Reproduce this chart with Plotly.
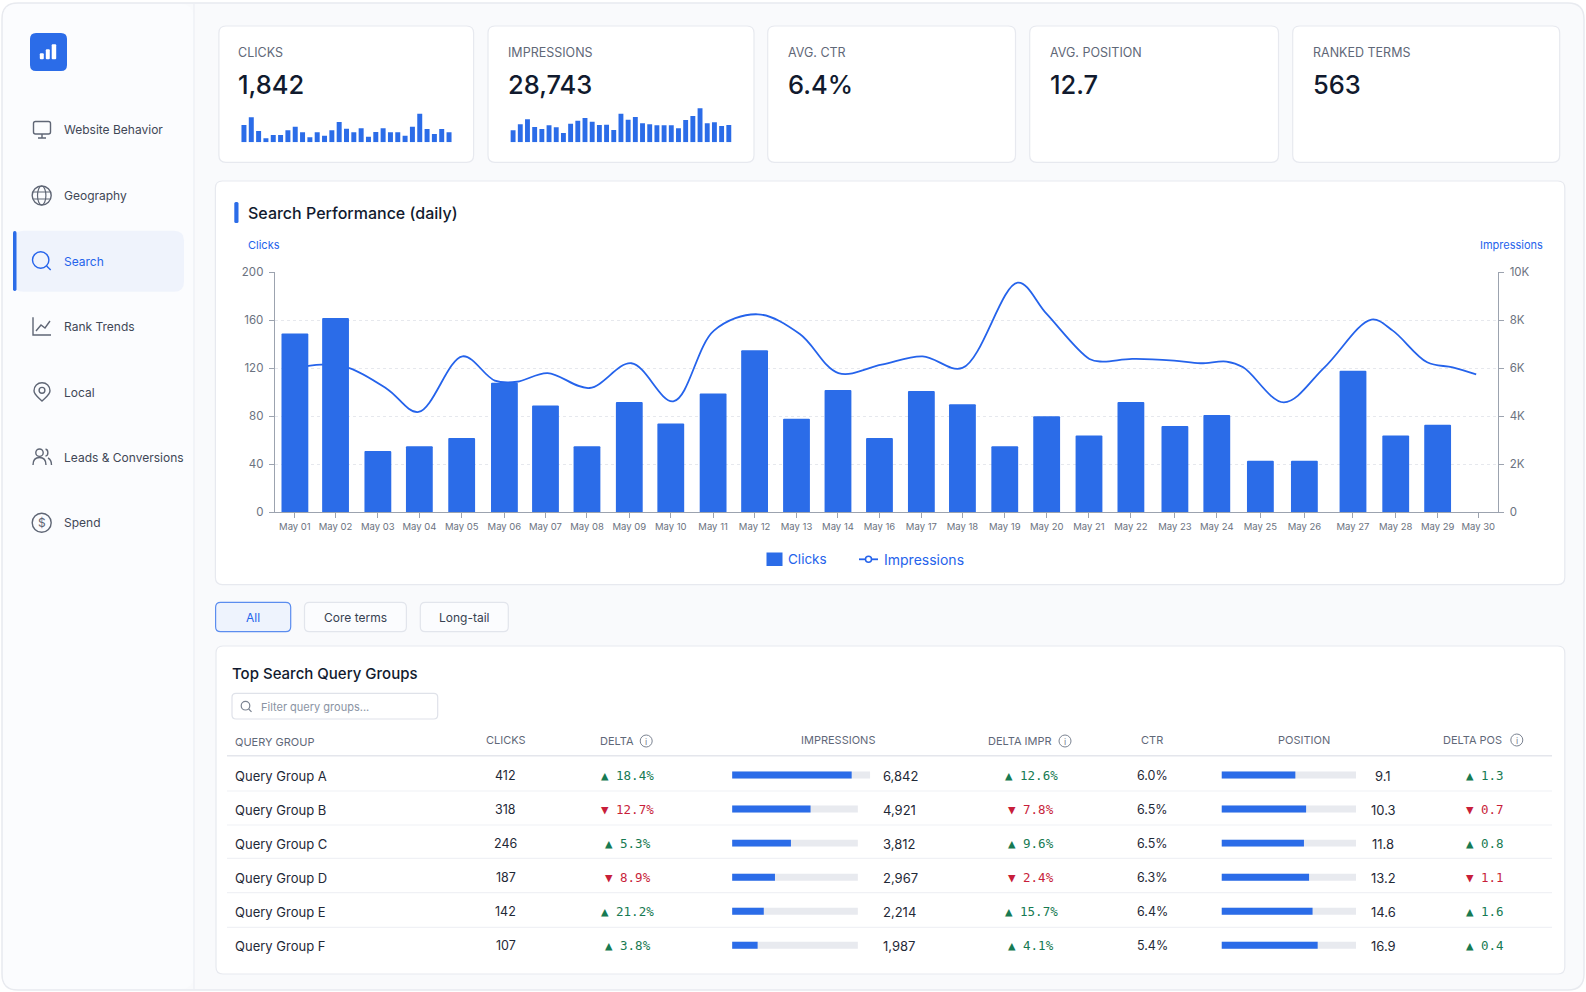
import plotly.graph_objects as go

# Sparkline values on the two KPI cards
clicks_spark = [52, 75, 34, 12, 22, 22, 36, 47, 30, 15, 30, 20, 36, 61, 41, 30, 42, 17, 31, 42, 30, 30, 20, 47, 86, 40, 25, 40, 30]
impr_spark = [36, 54, 69, 46, 40, 51, 45, 28, 56, 65, 73, 62, 52, 53, 37, 86, 68, 76, 57, 54, 51, 51, 51, 42, 67, 79, 102, 57, 60, 49, 52]

kpi_labels = ["CLICKS", "IMPRESSIONS", "AVG. CTR", "AVG. POSITION", "RANKED TERMS"]
kpi_values = ["1,842", "28,743", "6.4%", "12.7", "563"]

nav_labels = ["Website Behavior", "Geography", "Search", "Rank Trends", "Local", "Leads & Conversions", "Spend"]

# Daily chart
day_labels = ["May 01", "May 02", "May 03", "May 04", "May 05", "May 06", "May 07", "May 08", "May 09", "May 10",
              "May 11", "May 12", "May 13", "May 14", "May 16", "May 17", "May 18", "May 19", "May 20", "May 21",
              "May 22", "May 23", "May 24", "May 25", "May 26", "May 27", "May 28", "May 29", "May 30"]
day_slot = [0, 0.97, 1.98, 2.97, 3.98, 5, 5.98, 6.97, 7.98, 8.97, 9.98, 10.97, 11.97, 12.96, 13.95, 14.95, 15.93, 16.94,
            17.94, 18.95, 19.95, 21, 22, 23.04, 24.09, 25.25, 26.27, 27.27, 28.24]
daily_clicks = [149, 162, 51, 55, 62, 108, 89, 55, 92, 74, 99, 135, 78, 102, 62, 101, 90, 55, 80, 64, 92, 72, 81, 43, 43, 118, 64, 73, None]
# curve, the knots do not sit exactly on the days
impr_slot = [0.0, 0.63, 1.3, 2.2, 2.95, 4.0, 4.77, 5.3, 6.03, 7.03, 8.03, 9.03, 10.0, 11.05, 12.05, 12.97, 14.0, 14.98, 15.93,
             17.25, 17.94, 18.96, 19.27, 19.98, 20.98, 21.61, 22.23, 22.63, 23.6, 24.57, 25.69, 26.2, 27.02, 27.63, 28.19]
daily_impr = [6000, 6150, 6010, 5140, 4180, 6500, 5490, 5440, 5800, 5180, 6210, 4625, 7570, 8250, 7430, 5800, 6150, 6500, 6014,
              9570, 8264, 6390, 6280, 6390, 6320, 6210, 6280, 6040, 4583, 6040, 8030, 7570, 6250, 6040, 5750]
clicks_ticks = [0, 40, 80, 120, 160, 200]
impr_ticks = [0, 2000, 4000, 6000, 8000, 10000]
impr_tick_text = ["0", "2K", "4K", "6K", "8K", "10K"]

# Table
query_groups = ["Query Group A", "Query Group B", "Query Group C", "Query Group D", "Query Group E", "Query Group F"]
t_clicks = ["412", "318", "246", "187", "142", "107"]
t_delta = ["▲ 18.4%", "▼ 12.7%", "▲ 5.3%", "▼ 8.9%", "▲ 21.2%", "▲ 3.8%"]
t_impr = ["6,842", "4,921", "3,812", "2,967", "2,214", "1,987"]
t_impr_bar = [95.1, 62.4, 46.8, 34.1, 25.2, 20.3]
t_impr_track = [109.8, 100, 100, 100, 100, 100]
t_delta_impr = ["▲ 12.6%", "▼ 7.8%", "▲ 9.6%", "▼ 2.4%", "▲ 15.7%", "▲ 4.1%"]
t_ctr = ["6.0%", "6.5%", "6.5%", "6.3%", "6.4%", "5.4%"]
t_pos = ["9.1", "10.3", "11.8", "13.2", "14.6", "16.9"]
t_pos_bar = [54.9, 62.9, 61.3, 65.1, 67.7, 71.5]
t_pos_track = [100, 100, 100, 100, 100, 100]
t_delta_pos = ["▲ 1.3", "▼ 0.7", "▲ 0.8", "▼ 1.1", "▲ 1.6", "▲ 0.4"]

W, H = 1586, 992
BLUE = "#2b6ce8"
TEXT_BLUE = "#2563eb"
INK = "#111a2e"
BODY = "#1f2937"
MUTED = "#5f6878"
ICON = "#5f6675"
GREEN = "#177a52"
RED = "#c81e3a"
BORDER = "#e7e9ef"
FONT = "Inter"
MONO = "DejaVu Sans Mono"

shapes = []
notes = []


def rrect(x0, y0, x1, y1, r, fill="white", line=BORDER, lw=1.2):
    p = (f"M{x0+r},{y0} L{x1-r},{y0} Q{x1},{y0} {x1},{y0+r} L{x1},{y1-r} Q{x1},{y1} {x1-r},{y1} "
         f"L{x0+r},{y1} Q{x0},{y1} {x0},{y1-r} L{x0},{y0+r} Q{x0},{y0} {x0+r},{y0} Z")
    shapes.append(dict(type="path", path=p, xref="x", yref="y", layer="below", fillcolor=fill,
                       line=dict(color=line, width=lw)))


def stroke(p, color=ICON, lw=1.4):
    shapes.append(dict(type="path", path=p, xref="x", yref="y", layer="below", line=dict(color=color, width=lw)))


def circle(cx, cy, r, color=ICON, lw=1.4):
    shapes.append(dict(type="circle", x0=cx-r, x1=cx+r, y0=cy-r, y1=cy+r, xref="x", yref="y", layer="below",
                       line=dict(color=color, width=lw)))


def text(x, y, s, size=13, color=BODY, anchor="left", weight=400, family=FONT):
    notes.append(dict(x=x, y=y, xref="x", yref="y", text=s, showarrow=False, xanchor=anchor, yanchor="middle",
                      borderpad=0, font=dict(family=family, size=size, color=color, weight=weight)))


def info(cx, cy):
    circle(cx, cy, 6, color="#7b8391", lw=1)
    text(cx, cy, "i", size=9, color="#7b8391", anchor="center")


# page frame and sidebar
rrect(2, 3, 1584, 990, 16, fill="#f9fafc", line="#e8eaef", lw=1.5)
rrect(3, 4, 194, 989, 14, fill="#fbfcfe", line="#fbfcfe", lw=0)
stroke("M194,4 L194,989", color="#eceef3", lw=1.2)

# logo
rrect(30, 33, 67, 71, 6, fill=BLUE, line=BLUE, lw=0)
for lx0, lx1, ly in [(39.8, 43.8, 53.3), (45.8, 49.8, 49.3), (51.7, 56.2, 44.3)]:
    rrect(lx0, ly, lx1, 59.3, 1, fill="white", line="white", lw=0)

# nav
nav_y = [129.3, 195.7, 261.3, 326.7, 392.3, 457.3, 522.7]
rrect(13.5, 230.7, 184, 291.7, 10, fill="#eff3fc", line="#eff3fc", lw=0)
rrect(13, 231, 16.5, 291, 1.7, fill=BLUE, line=BLUE, lw=0)
for label, y in zip(nav_labels, nav_y):
    active = label == "Search"
    text(62.7, y, label, size=12, color=TEXT_BLUE if active else "#3f4756")

# nav icons
stroke("M35.5,121.5 L48.5,121.5 Q50.5,121.5 50.5,123.5 L50.5,132 Q50.5,134 48.5,134 L35.5,134 Q33.5,134 33.5,132 L33.5,123.5 Q33.5,121.5 35.5,121.5 Z")
stroke("M42,134 L42,137.5 M38,138 L46,138")
circle(41.7, 195.5, 9.5)
shapes.append(dict(type="circle", x0=37.5, x1=45.9, y0=186, y1=205, xref="x", yref="y", layer="below", line=dict(color=ICON, width=1.2)))
stroke("M33,192 L50.4,192 M33,199 L50.4,199", lw=1.2)
circle(40.7, 260, 8.2, color=TEXT_BLUE)
stroke("M46.6,265.9 L50.7,270", color=TEXT_BLUE)
stroke("M33,317.3 L33,335 L51,335")
stroke("M36,331 L41,325 L45,328 L50,321")
stroke("M42,401 C38,397 34,394.5 34,390.7 C34,386 37.5,382.7 42,382.7 C46.5,382.7 50,386 50,390.7 C50,394.5 46,397 42,401 Z")
circle(42, 390.3, 2.9)
circle(39.5, 452.7, 3.7)
stroke("M33,465 C33,459.5 36,457.5 39.5,457.5 C43,457.5 46,459.5 46,465")
stroke("M45.5,449.2 C48.5,449.2 48.8,455.6 45.5,456 M48,458 C50,459 51.5,461 51.5,465")
circle(41.7, 522.7, 9.5)
text(41.7, 522.7, "$", size=12, color=ICON, anchor="center")

# kpi cards
card_x = [(218.9, 473.6), (488, 754), (767.7, 1015.5), (1029.7, 1278.5), (1292.7, 1559.7)]
label_x = [237, 506.7, 787.2, 1049.2, 1312.2]
for (x0, x1), lx, lab, val in zip(card_x, label_x, kpi_labels, kpi_values):
    rrect(x0, 26, x1, 162.3, 7)
    text(lx, 52.7, lab, size=12.5, color=MUTED)
    text(lx, 84.3, val, size=25.5, color=INK, weight=500)

# chart card
rrect(215.4, 181, 1564.8, 584.6, 7)
rrect(234.3, 202, 238.5, 223, 1.5, fill=BLUE, line=BLUE, lw=0)
text(246.8, 213.3, "Search Performance (daily)", size=16, color=INK, weight=500)
text(247, 245, "Clicks", size=11, color=TEXT_BLUE)
text(1544, 245, "Impressions", size=11, color=TEXT_BLUE, anchor="right")

# legend, drawn by hand since the symbols are tighter than a plotly legend allows
rrect(766.5, 552.5, 782.5, 566, 0, fill=BLUE, line=BLUE, lw=0)
text(787, 559, "Clicks", size=13.5, color=TEXT_BLUE)
stroke("M859,559.3 L878,559.3", color=TEXT_BLUE, lw=1.8)
shapes.append(dict(type="circle", x0=865.5, x1=871.5, y0=556.3, y1=562.3, xref="x", yref="y", layer="below",
                   fillcolor="white", line=dict(color=TEXT_BLUE, width=1.5)))
text(883, 559, "Impressions", size=14, color=TEXT_BLUE)

# filter buttons
rrect(215.6, 602.3, 290.7, 631.7, 5, fill="#eef3fd", line="#5b8def", lw=1.2)
rrect(304.5, 602.3, 406.4, 631.7, 5, fill="#fbfcfe", line="#e2e5ec")
rrect(420.3, 602.3, 508.3, 631.7, 5, fill="#fbfcfe", line="#e2e5ec")
text(253.2, 617.6, "All", size=12, color=TEXT_BLUE, anchor="center")
text(355.5, 617.6, "Core terms", size=12, color="#374151", anchor="center")
text(464.3, 617.6, "Long-tail", size=12, color="#374151", anchor="center")

# table card
rrect(216, 646, 1564.8, 974, 7)
text(230.5, 673, "Top Search Query Groups", size=15, color=INK, weight=500)
rrect(232, 693.3, 437.7, 719, 4, fill="white", line="#dfe2e9")
circle(245.5, 705.7, 4.3, color="#7b8391", lw=1.2)
stroke("M248.7,709 L251.5,711.8", color="#7b8391", lw=1.2)
text(260, 706.5, "Filter query groups...", size=11, color="#8a93a3")

text(233.5, 741.7, "QUERY GROUP", size=11, color=MUTED)
text(505.7, 740, "CLICKS", size=11, color=MUTED, anchor="center")
text(599.4, 741, "DELTA", size=11, color=MUTED)
info(646.2, 741)
text(837.5, 740, "IMPRESSIONS", size=11, color=MUTED, anchor="center")
text(1052.5, 741, "DELTA IMPR", size=11, color=MUTED, anchor="right")
info(1065, 741)
text(1152.2, 740, "CTR", size=11, color=MUTED, anchor="center")
text(1304.4, 740, "POSITION", size=11, color=MUTED, anchor="center")
text(1502.6, 740, "DELTA POS", size=11, color=MUTED, anchor="right")
info(1516.8, 740)

stroke("M227,755.7 L1552,755.7", color="#e4e6ec", lw=1.5)
for sep in [791, 825, 858.3, 892.7, 927.3]:
    stroke(f"M227,{sep} L1552,{sep}", color="#f0f1f5", lw=1.2)


def delta_color(s):
    return GREEN if s.startswith("▲") else RED


row_y = [776 + 34.06 * i for i in range(6)]
for i, y in enumerate(row_y):
    text(233.5, y, query_groups[i], size=13, color=BODY)
    text(505.7, y - 0.5, t_clicks[i], size=12.5, color=BODY, anchor="center")
    text(627.6, y - 1, t_delta[i], size=12.5, color=delta_color(t_delta[i]), anchor="center", family=MONO)
    text(882, y, t_impr[i], size=13, color=BODY)
    text(1031, y - 1, t_delta_impr[i], size=12.5, color=delta_color(t_delta_impr[i]), anchor="center", family=MONO)
    text(1152.2, y - 0.5, t_ctr[i], size=12.5, color=BODY, anchor="center")
    text(1383.4, y, t_pos[i], size=13, color=BODY, anchor="center")
    text(1484.7, y - 1, t_delta_pos[i], size=12.5, color=delta_color(t_delta_pos[i]), anchor="center", family=MONO)

fig = go.Figure()

# Bars go on the overlaying axis so the curve ends up behind them
fig.add_trace(go.Bar(x=day_slot, y=daily_clicks, name="Clicks", marker=dict(color=BLUE, line_width=0, cornerradius=1),
                     width=0.64, xaxis="x2", yaxis="y3", customdata=day_labels, hovertemplate="%{customdata}: %{y}<extra>Clicks</extra>"))
fig.add_trace(go.Scatter(x=impr_slot, y=daily_impr, name="Impressions", mode="lines",
                         line=dict(color=TEXT_BLUE, width=1.8, shape="spline", smoothing=1), xaxis="x2", yaxis="y2"))

fig.add_trace(go.Bar(y=clicks_spark, marker=dict(color=BLUE, line_width=0), width=0.68,
                     xaxis="x4", yaxis="y4", name="Clicks"))
fig.add_trace(go.Bar(y=impr_spark, marker=dict(color=BLUE, line_width=0), width=0.68,
                     xaxis="x5", yaxis="y5", name="Impressions"))

fig.add_trace(go.Bar(x=t_impr_track, y=query_groups, orientation="h", width=0.205, marker=dict(color="#e8eaef", line_width=0),
                     xaxis="x6", yaxis="y6", hoverinfo="skip"))
fig.add_trace(go.Bar(x=t_impr_bar, y=query_groups, orientation="h", width=0.205, marker=dict(color=BLUE, line_width=0),
                     xaxis="x6", yaxis="y6", name="Impressions"))
fig.add_trace(go.Bar(x=t_pos_track, y=query_groups, orientation="h", width=0.205, marker=dict(color="#e8eaef", line_width=0),
                     xaxis="x7", yaxis="y7", hoverinfo="skip"))
fig.add_trace(go.Bar(x=t_pos_bar, y=query_groups, orientation="h", width=0.205, marker=dict(color=BLUE, line_width=0),
                     xaxis="x7", yaxis="y7", name="Position"))


def dx(a, b):
    return [a / W, b / W]


def dy(top, bottom):
    return [1 - bottom / H, 1 - top / H]


hidden = dict(visible=False, fixedrange=True)
AXIS_GREY = "#9ca3af"
tick_font = dict(family=FONT, size=11.5, color="#6b7280")

fig.update_layout(
    width=W, height=H,
    margin=dict(l=0, r=0, t=0, b=0, autoexpand=False),
    paper_bgcolor="white",
    plot_bgcolor="rgba(0,0,0,0)",
    barmode="overlay",
    showlegend=False,
    font=dict(family=FONT),
    shapes=shapes,
    annotations=notes,
    # page axes: one unit is one pixel, cards and icons are placed on these
    xaxis=dict(domain=[0, 1], range=[0, W], **hidden),
    yaxis=dict(domain=[0, 1], range=[H, 0], **hidden),
    # daily chart
    xaxis2=dict(domain=dx(274.7, 1498.4), range=[-0.482, 28.72], anchor="y2", tickmode="array", tickvals=day_slot,
                ticktext=day_labels, tickangle=0, ticks="outside", ticklen=5, tickcolor=AXIS_GREY, showgrid=False,
                showline=True, linecolor=AXIS_GREY, zeroline=False, fixedrange=True,
                tickfont=dict(family=FONT, size=9.5, color="#6b7280")),
    yaxis2=dict(domain=dy(272.3, 512.3), range=[0, 10000], anchor="x2", side="right", tickmode="array", tickvals=impr_ticks,
                ticktext=impr_tick_text, ticks="outside", ticklen=5, tickcolor=AXIS_GREY, showline=True, linecolor=AXIS_GREY,
                ticklabelstandoff=3,
                showgrid=True, gridcolor="#e6e8ed", griddash="dot", gridwidth=1, zeroline=False, fixedrange=True, tickfont=tick_font),
    yaxis3=dict(overlaying="y2", range=[0, 200], anchor="x2", side="left", tickmode="array", tickvals=clicks_ticks,
                ticks="outside", ticklen=5, tickcolor=AXIS_GREY, showline=True, linecolor=AXIS_GREY, showgrid=False,
                ticklabelstandoff=3, zeroline=False, fixedrange=True, tickfont=tick_font),
    # sparklines
    xaxis4=dict(domain=dx(240.3, 452.7), range=[-0.5, 28.5], anchor="y4", **hidden),
    yaxis4=dict(domain=dy(112.3, 142.3), range=[0, 90], anchor="x4", **hidden),
    xaxis5=dict(domain=dx(509.5, 732.4), range=[-0.5, 30.5], anchor="y5", **hidden),
    yaxis5=dict(domain=dy(107.3, 142.3), range=[0, 105], anchor="x5", **hidden),
    # table bars
    xaxis6=dict(domain=dx(732.1, 870.4), range=[0, 110], anchor="y6", **hidden),
    yaxis6=dict(domain=dy(758, 962.3), range=[5.5, -0.5], anchor="x6", **hidden),
    xaxis7=dict(domain=dx(1221.5, 1356), range=[0, 100], anchor="y7", **hidden),
    yaxis7=dict(domain=dy(758, 962.3), range=[5.5, -0.5], anchor="x7", **hidden),
)

fig.write_html("out.html", config=dict(displayModeBar=False),
               post_script="document.body.style.margin='0';document.body.style.overflow='hidden';")
